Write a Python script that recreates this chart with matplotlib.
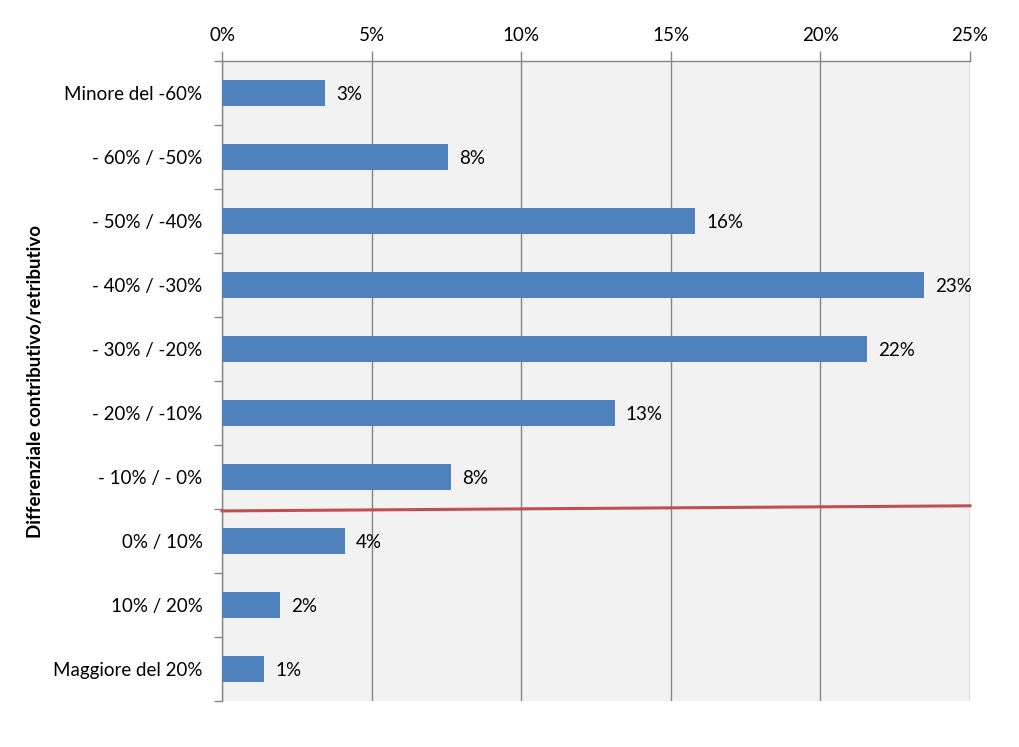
import matplotlib
matplotlib.use("Agg")
import matplotlib.pyplot as plt
from matplotlib.ticker import FuncFormatter

categories = ["Minore del -60%", "- 60% / -50%", "- 50% / -40%", "- 40% / -30%",
              "- 30% / -20%", "- 20% / -10%", "- 10% / - 0%", "0% / 10%",
              "10% / 20%", "Maggiore del 20%"]
values = [3.44, 7.55, 15.8, 23.45, 21.55, 13.12, 7.65, 4.1, 1.93, 1.4]
labels = ["3%", "8%", "16%", "23%", "22%", "13%", "8%", "4%", "2%", "1%"]
xticks = [0, 5, 10, 15, 20, 25]

plt.rcParams['font.family'] = ['Lato', 'DejaVu Sans']
fs = 13.5

fig = plt.figure(figsize=(10.19, 7.47), dpi=100)
ax = fig.add_axes([222/1019, 1-701/747, 748/1019, 640/747])
ax.set_facecolor("#F2F2F2")

ypos = list(range(len(categories)))
ax.barh(ypos, values, height=0.4, color="#4F81BD", zorder=3)
for y, v, t in zip(ypos, values, labels):
    ax.text(v + 0.38, y + 0.03, t, va="center", ha="left", fontsize=fs, color="black", zorder=4)

ax.set_xlim(0, 25)
ax.set_ylim(9.5, -0.5)
ax.set_xticks(xticks)
ax.xaxis.set_major_formatter(FuncFormatter(lambda x, p: "%d%%" % x))
ax.xaxis.tick_top()
ax.grid(axis="x", color="#868686", linewidth=1, zorder=1)
ax.set_yticks(ypos)
ax.set_yticklabels(categories, fontsize=fs)
ax.set_yticks([i + 0.5 for i in range(-1, 10)], minor=True)
ax.tick_params(axis="y", which="major", length=0, pad=14)
ax.tick_params(axis="y", which="minor", length=6, color="#868686", width=1)
ax.tick_params(axis="x", length=7, color="#868686", width=1, labelsize=fs, pad=5)

for s in ["right", "bottom"]:
    ax.spines[s].set_visible(False)
for s in ["top", "left"]:
    ax.spines[s].set_color("#868686")
    ax.spines[s].set_linewidth(1)

# linea rossa di separazione
ax.plot([0, 25], [6.53, 6.45], color="#C0504D", linewidth=2.2, zorder=5, clip_on=False)

ax.set_ylabel("Differenziale contributivo/retributivo", fontsize=fs, fontweight="bold")
ax.yaxis.set_label_coords(-178/748, 0.5)

fig.savefig("out.png", dpi=100)
